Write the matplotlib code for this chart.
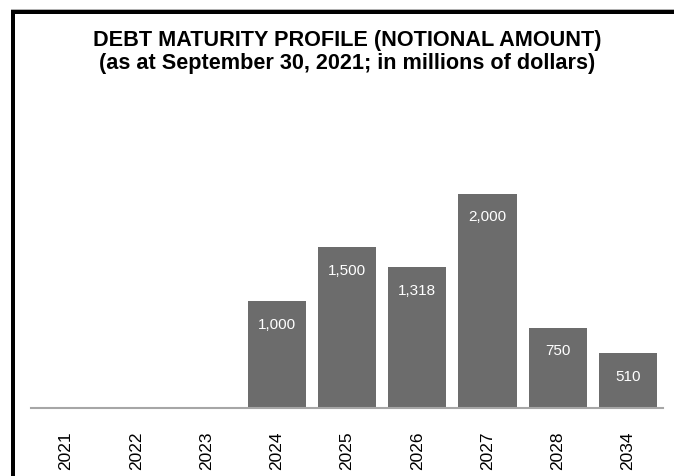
import matplotlib
matplotlib.use("Agg")
import matplotlib.pyplot as plt
from matplotlib.patches import Rectangle

plt.rcParams['font.family'] = ['Liberation Sans', 'DejaVu Sans']

# data
years = ['2021', '2022', '2023', '2024', '2025', '2026', '2027', '2028', '2034']
amounts = [0, 0, 0, 1000, 1500, 1318, 2000, 750, 510]
title_1 = 'DEBT MATURITY PROFILE (NOTIONAL AMOUNT)'
title_2 = '(as at September 30, 2021; in millions of dollars)'

W, H = 674, 476
fig = plt.figure(figsize=(W / 100, H / 100), dpi=100)

# axes in pixel terms: left 31, right 663, baseline at 408 from top
ax = fig.add_axes([31 / W, (H - 408) / H, 632 / W, 288 / H])

x = range(len(years))
bars = ax.bar(x, amounts, width=0.83, color='#6c6c6c', zorder=2)
ax.set_xlim(-0.5, len(years) - 0.5)
ax.set_ylim(0, 2690)

for xi, v in zip(x, amounts):
    if v > 0:
        ax.annotate(f'{v:,}', (xi, v), xytext=(0, -17), textcoords='offset points',
                    ha='center', va='center', color='white', fontsize=11)

ax.set_xticks(list(x))
ax.set_xticklabels(years, rotation=90, fontsize=12.5)
ax.tick_params(axis='x', length=0, pad=17)
ax.set_yticks([])
for s in ['top', 'right', 'left']:
    ax.spines[s].set_visible(False)
ax.spines['bottom'].set_color('#a6a6a6')
ax.spines['bottom'].set_linewidth(1.5)

fig.text(347 / W, 1 - 46 / H, title_1, ha='center', va='baseline',
         fontsize=15.6, fontweight='bold')
fig.text(347 / W, 1 - 69 / H, title_2, ha='center', va='baseline',
         fontsize=15.6, fontweight='bold')

# frame lines (top and left only, rest is cropped)
fig.add_artist(Rectangle((11 / W, 1 - 14 / H), 1, 4 / H, transform=fig.transFigure,
                         color='black', lw=0))
fig.add_artist(Rectangle((11 / W, 0), 4 / W, 1 - 10 / H, transform=fig.transFigure,
                         color='black', lw=0))
fig.add_artist(Rectangle((11 / W, 1 - 10 / H), 1, 1 / H, transform=fig.transFigure,
                         color='#b0b0b0', lw=0))

fig.savefig('out.png', dpi=100)
